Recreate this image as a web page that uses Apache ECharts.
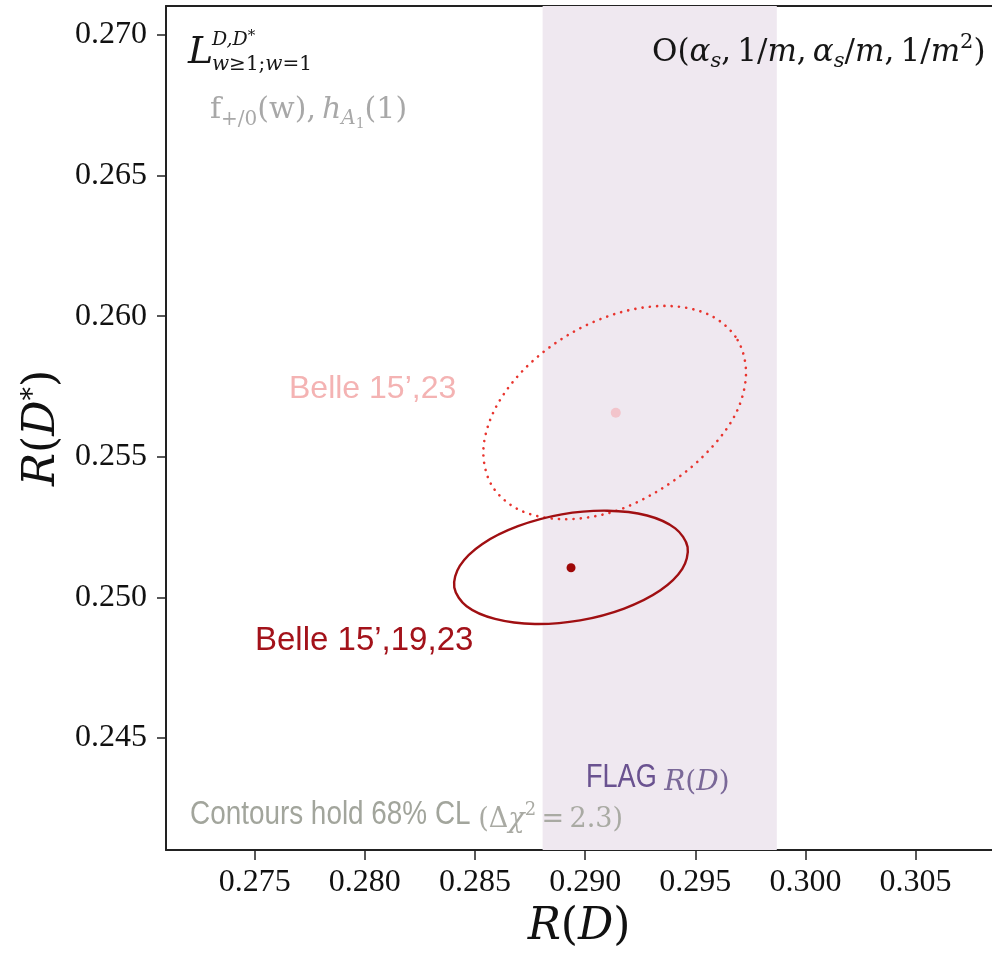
<!DOCTYPE html>
<html>
<head>
<meta charset="utf-8">
<script src="https://cdn.jsdelivr.net/npm/echarts@6/dist/echarts.min.js"></script>
<style>
  html, body { margin: 0; padding: 0; background: #fff; }
  #chart { width: 992px; height: 955px; }
</style>
</head>
<body>
<div id="chart"></div>
<script>
// axis extents and ticks
var xRange = [0.270974, 0.308468];
var yRange = [0.241013, 0.271028];
var xTicks = [0.275, 0.280, 0.285, 0.290, 0.295, 0.300, 0.305];
var yTicks = [0.245, 0.250, 0.255, 0.260, 0.265, 0.270];

// FLAG R(D) band
var flagBand = [0.28807, 0.29870];

// central values
var belle1523Center = [0.29139, 0.25656];
var belle151923Center = [0.28936, 0.25105];

// 68% CL contours (closed loops)
var belle1523Contour = [
  [0.29692, 0.25915], [0.29730, 0.25789], [0.29677, 0.25643], [0.29526, 0.25494],
  [0.29326, 0.25376], [0.29114, 0.25301], [0.28887, 0.25278], [0.28698, 0.25312],
  [0.28576, 0.25398], [0.28538, 0.25524], [0.28591, 0.25670], [0.28727, 0.25814],
  [0.28925, 0.25934], [0.29154, 0.26012], [0.29381, 0.26036], [0.29570, 0.26002]
];
var belle151923Contour = [
  [0.29465, 0.25179], [0.29441, 0.25101], [0.29340, 0.25024], [0.29177, 0.24960],
  [0.28977, 0.24918], [0.28772, 0.24905], [0.28591, 0.24923], [0.28462, 0.24968],
  [0.28406, 0.25035], [0.28431, 0.25112], [0.28532, 0.25189], [0.28695, 0.25253],
  [0.28894, 0.25295], [0.29100, 0.25308], [0.29281, 0.25291], [0.29409, 0.25245]
];

var measureCtx = document.createElement('canvas').getContext('2d');

// lay out a row of text pieces on a common baseline
// piece: [text, size, 'i'|'n', baselineShift, family]
function mathRun(x0, base, color, pieces) {
  var out = [];
  var x = x0;
  pieces.forEach(function (p) {
    var font = (p[2] === 'i' ? 'italic ' : '') + p[1] + 'px "' + (p[4] || 'DejaVu Serif') + '"';
    measureCtx.font = font;
    measureCtx.textBaseline = 'middle';
    var m = measureCtx.measureText(p[0]);
    out.push({
      type: 'text', x: x, y: base + (p[3] || 0) + m.alphabeticBaseline, z: 100, silent: true,
      style: { text: p[0], font: font, fill: color, textAlign: 'left', textVerticalAlign: 'middle' }
    });
    x += m.width;
  });
  out.endX = x;
  return out;
}

function narrowText(x, y, text, size, color, sx) {
  measureCtx.font = size + 'px "Liberation Sans"';
  var w = measureCtx.measureText(text).width * sx;
  return {
    el: {
      type: 'text', x: x, y: y, scaleX: sx, z: 100, silent: true,
      style: { text: text, font: size + 'px "Liberation Sans"', fill: color, textAlign: 'left', textVerticalAlign: 'middle' }
    },
    endX: x + w
  };
}

function buildGraphics() {
  var g = [];
  var black = '#161616';
  g = g.concat(mathRun(188, 63, black, [['L', 38, 'i']]));
  g = g.concat(mathRun(212, 45, black, [['D,D', 19, 'i'], ['*', 15, 'n', -5]]));
  g = g.concat(mathRun(212, 70, black, [['w', 20, 'i'], ['\u22651;', 20, 'n'], ['w', 20, 'i'], ['=1', 20, 'n']]));

  g = g.concat(mathRun(210, 118, '#a8a8a8', [
    ['f', 30, 'n'], ['+/0', 20, 'n', 7], ['(w),', 30, 'n'], ['\u2009', 30, 'n'],
    ['h', 30, 'i'], ['A', 20, 'i', 6], ['1', 14, 'n', 10], ['(1)', 30, 'n']
  ]));

  g = g.concat(mathRun(652, 61, black, [
    ['O', 31, 'n'], ['(', 31, 'n'], ['\u03b1', 31, 'i'], ['s', 21, 'i', 6], [',\u20091/', 31, 'n'],
    ['m', 31, 'i'], [',\u2009', 31, 'n'], ['\u03b1', 31, 'i'], ['s', 21, 'i', 6], ['/', 31, 'n'],
    ['m', 31, 'i'], [',\u20091/', 31, 'n'], ['m', 31, 'i'], ['2', 21, 'n', -13], [')', 31, 'n']
  ]));

  var c = narrowText(190, 815, 'Contours hold 68% CL ', 34, '#a2a59c', 0.82);
  g.push(c.el);
  g = g.concat(mathRun(c.endX, 827, '#a9aaa3', [
    ['(\u0394', 27, 'n'], ['\u03c7', 27, 'i'], ['2', 18, 'n', -12], ['\u2009=\u20092.3)', 27, 'n']
  ]));

  var f = narrowText(586, 778, 'FLAG ', 33, '#6a5290', 0.82);
  g.push(f.el);
  g = g.concat(mathRun(f.endX, 790, '#7a6898', [['R', 28, 'i'], ['(', 28, 'n'], ['D', 28, 'i'], [')', 28, 'n']]));

  g.push({
    type: 'text', x: 289, y: 389, z: 100, silent: true,
    style: { text: 'Belle 15\u2019,23', font: '32px "Liberation Sans"', fill: '#f4b3b3', textAlign: 'left', textVerticalAlign: 'middle' }
  });
  g.push({
    type: 'text', x: 255, y: 641, z: 100, silent: true,
    style: { text: 'Belle 15\u2019,19,23', font: '33px "Liberation Sans"', fill: '#a3121a', textAlign: 'left', textVerticalAlign: 'middle' }
  });
  return g;
}

// closed smooth contour drawn once, points mapped through the axes
function contourRenderer(points, lineStyle) {
  return function (params, api) {
    if (params.dataIndex !== 0) return null;
    return {
      type: 'polygon',
      shape: { points: points.map(function (p) { return api.coord(p); }), smooth: 0.33 },
      style: Object.assign({ fill: 'none' }, lineStyle),
      silent: true
    };
  };
}

function tickLabel(values, margin) {
  return {
    customValues: values, margin: margin,
    fontFamily: 'Liberation Serif', fontSize: 32, color: '#111',
    formatter: function (v) { return v.toFixed(3); }
  };
}
var nameRich = {
  i: { fontFamily: 'DejaVu Serif', fontStyle: 'italic', fontSize: 44, color: '#111' },
  n: { fontFamily: 'DejaVu Serif', fontSize: 44, color: '#111' },
  s: { fontFamily: 'DejaVu Serif', fontSize: 27, color: '#111', verticalAlign: 'top' }
};
var frameLine = { show: true, onZero: false, lineStyle: { color: '#222', width: 2 } };

var myChart = echarts.init(document.getElementById('chart'));
var option = {
  animation: false,
  grid: { left: 166, right: 0, top: 6, bottom: 105 },
  xAxis: [{
    type: 'value', min: xRange[0], max: xRange[1], position: 'bottom',
    axisLine: frameLine,
    splitLine: { show: false },
    axisTick: { show: true, customValues: xTicks, length: 10, lineStyle: { color: '#222', width: 1.5 } },
    axisLabel: tickLabel(xTicks, 17),
    name: '{i|R}{n|(}{i|D}{n|)}',
    nameLocation: 'middle', nameGap: 56,
    nameTextStyle: { rich: nameRich }
  }, {
    type: 'value', min: xRange[0], max: xRange[1], position: 'top',
    axisLine: frameLine, axisTick: { show: false }, axisLabel: { show: false }, splitLine: { show: false }
  }],
  yAxis: {
    type: 'value', min: yRange[0], max: yRange[1],
    axisLine: frameLine,
    splitLine: { show: false },
    axisTick: { show: true, customValues: yTicks, length: 9, lineStyle: { color: '#222', width: 1.5 } },
    axisLabel: tickLabel(yTicks, 19),
    name: '{i|R}{n|(}{i|D}{s|*}{n|)}',
    nameLocation: 'middle', nameGap: 92, nameRotate: 90,
    nameTextStyle: { rich: nameRich }
  },
  series: [{
    name: 'Belle 15\u2019,23',
    type: 'custom',
    data: belle1523Contour,
    z: 3,
    renderItem: contourRenderer(belle1523Contour, {
      stroke: '#e8342e', lineWidth: 2.6, lineDash: [0.1, 7.2], lineCap: 'round'
    }),
    markArea: {
      silent: true,
      itemStyle: { color: '#efe8f0' },
      data: [[{ xAxis: flagBand[0] }, { xAxis: flagBand[1] }]]
    }
  }, {
    name: 'Belle 15\u2019,19,23',
    type: 'custom',
    data: belle151923Contour,
    z: 3,
    renderItem: contourRenderer(belle151923Contour, { stroke: '#a00f12', lineWidth: 2.4 })
  }, {
    type: 'scatter',
    data: [belle1523Center],
    symbolSize: 10,
    z: 4,
    itemStyle: { color: '#f2c4cb', opacity: 1 }
  }, {
    type: 'scatter',
    data: [belle151923Center],
    symbolSize: 9,
    z: 4,
    itemStyle: { color: '#9e0808', opacity: 1 }
  }],
  graphic: buildGraphics()
};
myChart.setOption(option);
</script>
</body>
</html>
